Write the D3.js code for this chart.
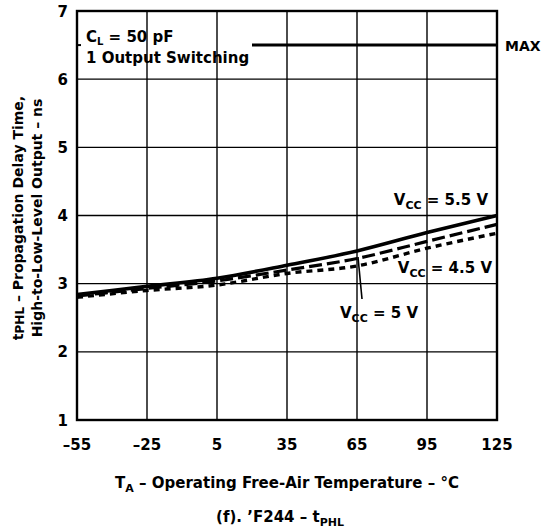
<!DOCTYPE html>
<html>
<head>
<meta charset="utf-8">
<script src="https://cdn.jsdelivr.net/npm/d3@7/dist/d3.min.js"></script>
<style>
  html, body { margin: 0; padding: 0; background: #fff; }
  svg text { font-family: "DejaVu Sans", "Liberation Sans", Arial, sans-serif; font-weight: bold; fill: #000; }
</style>
</head>
<body>
<svg id="chart" width="553" height="531"></svg>
<script>
// Temperature points (°C) and propagation delay (ns) for each supply voltage
const temps = [-55, -25, 5, 35, 65, 95, 125];
const vcc55 = [2.84, 2.96, 3.08, 3.27, 3.48, 3.75, 4.00];
const vcc50 = [2.82, 2.93, 3.04, 3.20, 3.37, 3.62, 3.87];
const vcc45 = [2.80, 2.90, 2.98, 3.15, 3.26, 3.52, 3.74];
const maxLimit = 6.5;
const maxFrom = 20;
const xTicks = [-55, -25, 5, 35, 65, 95, 125];
const yTicks = [1, 2, 3, 4, 5, 6, 7];

const svg = d3.select("#chart");
const x = d3.scaleLinear().domain([-55, 125]).range([77, 497]);
const y = d3.scaleLinear().domain([1, 7]).range([420, 11]);

// grid
const grid = svg.append("g").attr("stroke", "#000").attr("stroke-width", 1.4);
grid.selectAll("line.v").data(xTicks.slice(1, -1)).join("line")
  .attr("x1", d => x(d)).attr("x2", d => x(d))
  .attr("y1", y(1)).attr("y2", y(7));
grid.selectAll("line.h").data(yTicks.slice(1, -1)).join("line")
  .attr("x1", x(-55)).attr("x2", x(125))
  .attr("y1", d => y(d)).attr("y2", d => y(d));

// frame
svg.append("rect")
  .attr("x", x(-55)).attr("y", y(7))
  .attr("width", x(125) - x(-55)).attr("height", y(1) - y(7))
  .attr("fill", "none").attr("stroke", "#000").attr("stroke-width", 2.4);

// small inner tick at the MAX level on the left edge
svg.append("line")
  .attr("x1", x(-55)).attr("x2", x(-55) + 4)
  .attr("y1", y(maxLimit)).attr("y2", y(maxLimit))
  .attr("stroke", "#000").attr("stroke-width", 2);

// tick labels
svg.append("g").selectAll("text").data(xTicks).join("text")
  .attr("x", d => x(d)).attr("y", 450)
  .attr("text-anchor", "middle").attr("font-size", 15)
  .text(d => d < 0 ? "\u2013" + Math.abs(d) : d);
svg.append("g").selectAll("text").data(yTicks).join("text")
  .attr("x", 68).attr("y", d => y(d) + 5.5)
  .attr("text-anchor", "end").attr("font-size", 15)
  .text(d => d);

// MAX limit
svg.append("line")
  .attr("x1", x(maxFrom)).attr("x2", x(125))
  .attr("y1", y(maxLimit)).attr("y2", y(maxLimit))
  .attr("stroke", "#000").attr("stroke-width", 3);
svg.append("text").attr("x", 505).attr("y", y(maxLimit) + 5.5)
  .attr("font-size", 14).text("MAX");

// curves
const line = d3.line().x(d => x(d[0])).y(d => y(d[1])).curve(d3.curveMonotoneX);
const series = [
  { v: vcc55, dash: null, w: 3.6 },
  { v: vcc50, dash: "13,5", w: 3.2 },
  { v: vcc45, dash: "6,5", w: 3.4 }
];
svg.append("g").selectAll("path").data(series).join("path")
  .attr("d", s => line(temps.map((t, i) => [t, s.v[i]])))
  .attr("fill", "none").attr("stroke", "#000")
  .attr("stroke-width", s => s.w)
  .attr("stroke-dasharray", s => s.dash);

// curve labels
function vccLabel(xr, yb, rest, anchor) {
  const t = svg.append("text").attr("x", xr).attr("y", yb)
    .attr("font-size", 15).attr("text-anchor", anchor);
  t.append("tspan").text("V");
  t.append("tspan").attr("font-size", 11).attr("dy", 4).text("CC");
  t.append("tspan").attr("dy", -4).text(" = " + rest);
}
vccLabel(488, 205, "5.5 V", "end");
vccLabel(492, 273, "4.5 V", "end");
vccLabel(340, 318, "5 V", "start");
svg.append("line")
  .attr("x1", 358).attr("y1", 257).attr("x2", 362).attr("y2", 299)
  .attr("stroke", "#000").attr("stroke-width", 1.6);

// conditions
const cond = svg.append("text").attr("x", 86).attr("y", 42).attr("font-size", 15);
cond.append("tspan").text("C");
cond.append("tspan").attr("font-size", 10).attr("dy", 3).text("L");
cond.append("tspan").attr("dy", -3).text(" = 50 pF");
svg.append("text").attr("x", 86).attr("y", 63).attr("font-size", 15).text("1 Output Switching");

// axis titles
const xt = svg.append("text").attr("x", 287).attr("y", 488)
  .attr("text-anchor", "middle").attr("font-size", 15);
xt.append("tspan").text("T");
xt.append("tspan").attr("font-size", 11).attr("dy", 4).text("A");
xt.append("tspan").attr("dy", -4).text(" \u2013 Operating Free-Air Temperature \u2013 \u00b0C");

const yt1 = svg.append("text").attr("transform", "translate(23,218) rotate(-90)")
  .attr("text-anchor", "middle").attr("font-size", 14);
yt1.append("tspan").text("t");
yt1.append("tspan").attr("font-size", 12).attr("dy", 1).text("PHL");
yt1.append("tspan").attr("dy", -1).text(" \u2013 Propagation Delay Time,");
svg.append("text").attr("transform", "translate(42,218) rotate(-90)")
  .attr("text-anchor", "middle").attr("font-size", 14)
  .text("High-to-Low-Level Output \u2013 ns");

// caption
const cap = svg.append("text").attr("x", 280).attr("y", 522)
  .attr("text-anchor", "middle").attr("font-size", 15);
cap.append("tspan").text("(f).  \u2019F244 \u2013 t");
cap.append("tspan").attr("font-size", 11).attr("dy", 4).text("PHL");
</script>
</body>
</html>
